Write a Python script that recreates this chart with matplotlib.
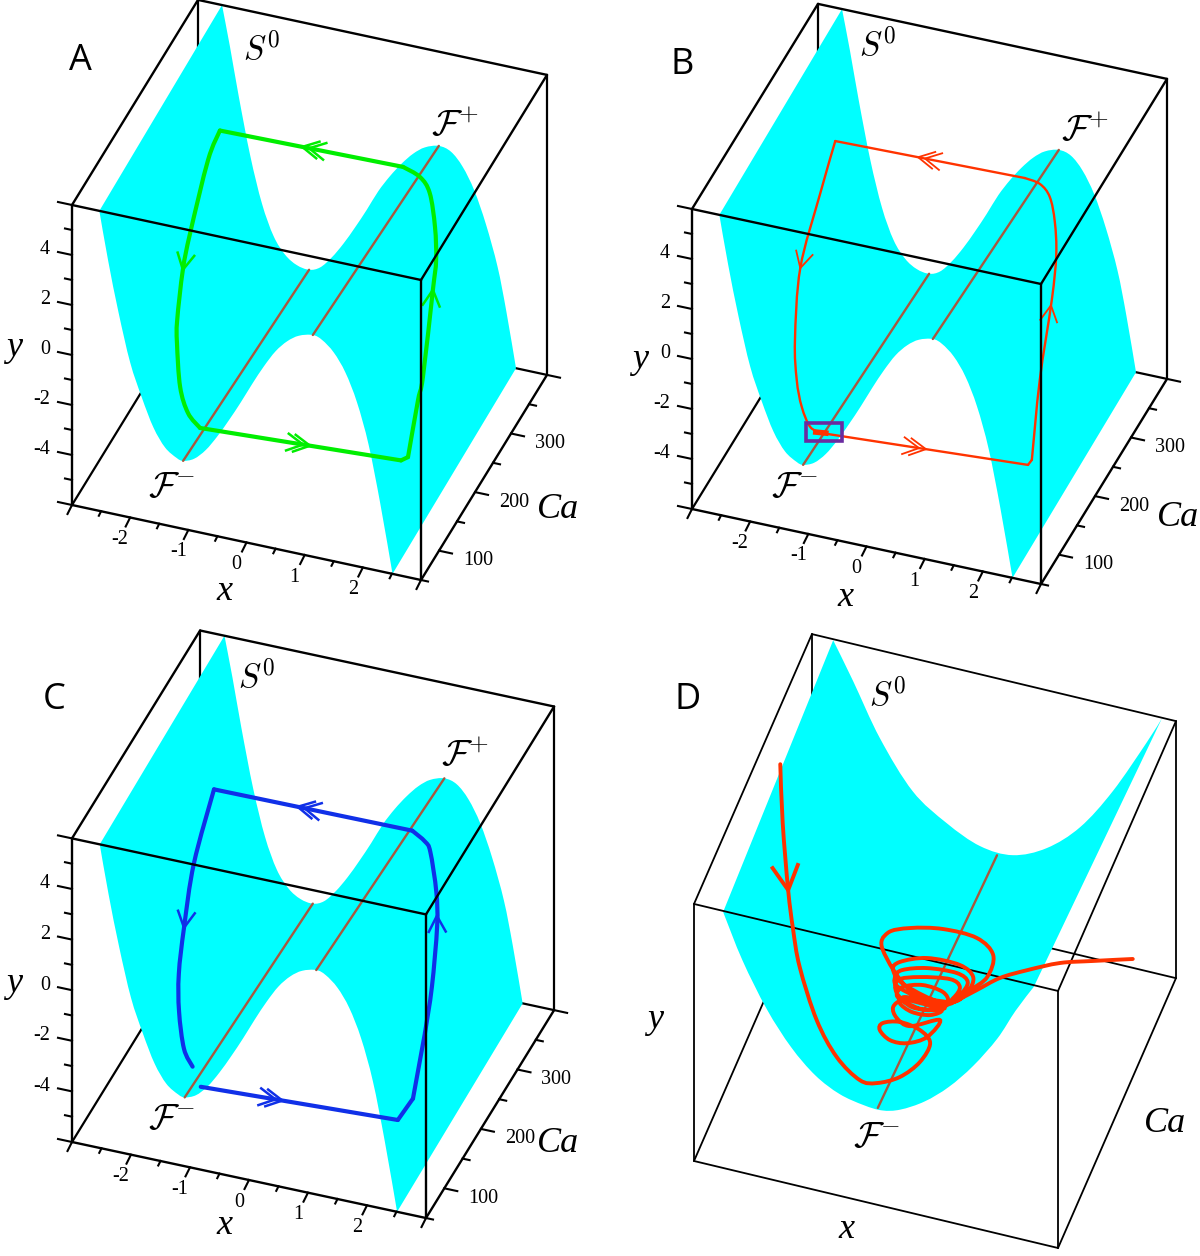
import numpy as np
import matplotlib
matplotlib.use('Agg')
import matplotlib.pyplot as plt
from matplotlib.path import Path
from matplotlib.patches import PathPatch, Rectangle

plt.rcParams['mathtext.fontset'] = 'cm'

# surface edges of panels A, B, C (front is Ca=50, back is Ca=400)
front_x = [-2.53, -2.38, -2.2, -2.0, -1.8, -1.6, -1.4, -1.2, -1.09, -0.9, -0.7, -0.5, -0.3, -0.1, 0.1, 0.3, 0.5, 0.7, 0.9, 1.14, 1.3, 1.5, 1.7, 1.9, 2.1, 2.3, 2.51]
front_y = [6.0, 4.1, 2.1, 0.2, -1.1, -2.2, -2.9, -3.22, -3.28, -3.1, -2.65, -2.0, -1.25, -0.45, 0.4, 1.2, 1.9, 2.4, 2.72, 2.87, 2.75, 2.35, 1.65, 0.55, -1.05, -3.3, -6.0]
back_x = [-2.587, -2.45, -2.3, -2.1, -1.9, -1.7, -1.5, -1.3, -1.09, -0.9, -0.7, -0.5, -0.3, -0.1, 0.1, 0.3, 0.5, 0.7, 0.9, 1.14, 1.35, 1.55, 1.75, 1.95, 2.15, 2.3, 2.467]
back_y = [6.0, 4.4, 2.5, 0.2, -1.6, -2.8, -3.45, -3.76, -3.84, -3.65, -3.15, -2.5, -1.75, -0.95, -0.1, 0.6, 1.2, 1.7, 2.05, 2.23, 2.1, 1.6, 0.75, -0.5, -2.1, -3.8, -6.0]

# surface edges of panel D
front_x_d = [-2.52, -2.2, -1.8, -1.4, -1.0, -0.6, -0.2, 0.1, 0.4, 0.8, 1.2, 1.6, 2.0, 2.3, 2.6]
front_y_d = [5.95, 3.9, 1.9, 0.4, -0.65, -1.25, -1.5, -1.54, -1.3, -0.65, 0.3, 1.55, 3.1, 4.6, 5.92]
back_x_d = [-2.65, -2.32, -1.88, -1.34, -0.78, -0.23, 0.31, 0.87, 1.42, 1.96, 2.52, 2.77]
back_y_d = [5.95, 4.26, 1.9, -0.21, -1.32, -2.02, -2.08, -1.37, -0.02, 2.03, 4.69, 5.98]

# fold lines
fold_ca = [50, 400]
fold_minus_x = [-1.09, -1.09]
fold_minus_y = [-3.28, -3.84]
fold_plus_x = [1.14, 1.14]
fold_plus_y = [2.87, 2.23]
fold_d_x = [0.03, 0.05]
fold_d_y = [-1.47, -2.26]

# trajectories
traj_a_x = [-1.17, 2.285, 2.374, 2.33, 2.29, 2.09, 1.96, 1.755, 1.51, 1.25, 0.957, -2.19, -2.27, -2.33, -2.27, -2.12, -2.0, -1.76, -1.50, -1.17]
traj_a_y = [-3.41, -2.98, -2.92, -1.48, -1.05, 0.93, 1.36, 1.87, 2.52, 2.68, 2.94, 2.82, 2.07, 0.06, -0.68, -1.68, -2.07, -3.0, -3.45, -3.41]
traj_a_ca = [110, 110, 115, 150, 170, 230, 260, 290, 315, 330, 330, 330, 310, 270, 240, 200, 180, 150, 130, 110]

traj_b_x = [-1.14, 2.405, 2.44, 2.05, 2.01, 1.90, 1.69, 1.48, 1.25, 0.99, -2.27, -2.35, -2.5, -2.22, -1.88, -1.67, -1.40, -1.14]
traj_b_y = [-3.44, -2.94, -2.84, -1.83, 0.42, 1.45, 1.97, 2.39, 2.56, 2.67, 2.52, 1.03, -1.27, -2.6, -2.86, -3.36, -3.56, -3.44]
traj_b_ca = [110, 110, 115, 200, 240, 270, 300, 320, 330, 330, 330, 300, 270, 210, 160, 140, 120, 110]

traj_c_x = [-1.19, 2.15, 2.345, 2.3, 2.17, 2.01, 1.81, 1.46, 1.31, 1.03, -2.33, -2.36, -2.28, -2.12, -1.93, -1.66, -1.39]
traj_c_y = [-4.32, -3.96, -3.25, -1.62, -0.79, 0.58, 1.13, 1.6, 1.69, 1.75, 1.7, -0.06, -1.63, -2.44, -3.12, -3.76, -3.86]
traj_c_ca = [110, 110, 120, 160, 200, 240, 270, 310, 320, 330, 330, 280, 240, 200, 170, 140, 120]

traj_d_x = [-2.55, -2.51, -2.42, -2.34, -2.23, -1.95, -1.62, -1.24, -0.96, -0.58, -0.25, -0.08, -0.25, -0.58, -0.86, -0.91, -0.74, -0.46, -0.13, 0.08,
            -0.41, -0.63, -0.69, -0.53, -0.25, 0.11, -0.08, -0.38, -0.58, -0.50, -0.17, 0.16, -0.17, -0.50, -0.63, -0.53, -0.20, 0.13, 0.21, 0.0,
            -0.38, -0.63, -0.61, -0.25, 0.25, 0.41, 0.30, 0.08, -0.58, -0.66, -0.54, -0.13, 0.36, 0.54, 0.41, 0.16, -0.50, -0.69, -0.58, -0.13,
            0.41, 0.63, 0.53, 0.25, -0.41, -0.86, -0.78, -0.41, 0.13, 0.69, 0.96, 0.86, 0.58, 0.30, 0.69, 1.07, 1.52, 2.06, 2.60, 3.26]
traj_d_y = [6.53, 3.81, 0.74, -1.02, -2.72, -5.01, -6.51, -7.33, -7.28, -6.74, -5.82, -4.82, -4.32, -4.17, -4.41, -4.77, -5.13, -5.08, -4.57, -3.63,
            -4.25, -4.02, -3.55, -3.11, -3.06, -3.14, -3.51, -3.57, -3.29, -2.95, -2.96, -3.02, -3.33, -3.18, -2.95, -2.5, -2.19, -2.29, -2.7, -3.18,
            -3.34, -2.85, -2.23, -1.85, -1.61, -1.87, -2.46, -2.98, -2.59, -2.13, -1.72, -1.35, -1.25, -1.55, -2.24, -2.83, -2.39, -1.82, -1.37, -0.88,
            -0.84, -1.26, -2.03, -2.68, -2.57, -1.0, -0.15, 0.33, 0.65, 0.61, -0.01, -1.1, -1.9, -2.65, -1.82, -1.0, -0.33, 0.37, 0.83, 1.37]
traj_d_ca = 225

x_major = [-3, -2, -1, 0, 1, 2, 3]
x_minor = [-2.5, -1.5, -0.5, 0.5, 1.5, 2.5]
x_labels = [-2, -1, 0, 1, 2]
y_major = [-6, -4, -2, 0, 2, 4, 6]
y_minor = [-5, -3, -1, 1, 3, 5]
y_labels = [-4, -2, 0, 2, 4]
ca_major = [100, 200, 300, 400]
ca_minor = [50, 150, 250, 350]
ca_labels = [100, 200, 300]

CYAN = '#00ffff'
FOLD = '#a8583f'
GREEN = '#00ee00'
RED = '#ff3300'
BLUE = '#1030e8'
SERIF = 'Liberation Serif'

panel_a = dict(origin=(72, 505), xu=(58.17, 12.5), yu=(0, -25), cu=(0.36, -0.586))
panel_b = dict(origin=(692, 509), xu=(58.17, 12.5), yu=(0, -25), cu=(0.36, -0.586))
panel_c = dict(origin=(72, 1142), xu=(59, 12.67), yu=(0, -25.3), cu=(0.366, -0.594))
panel_d = dict(origin=(694, 1161), xu=(60.67, 14.5), yu=(0, -21.42), cu=(0.337, -0.771))


def project(p, x, y, ca):
    x = np.asarray(x, dtype=float)
    y = np.asarray(y, dtype=float)
    ca = np.asarray(ca, dtype=float)
    sx = p['origin'][0] + (x + 3) * p['xu'][0] + (ca - 50) * p['cu'][0]
    sy = p['origin'][1] + (x + 3) * p['xu'][1] + (y + 6) * p['yu'][1] + (ca - 50) * p['cu'][1]
    return sx, sy


def bezier_through(sx, sy):
    # control points so a curve passes through the read points
    pts = np.column_stack([sx, sy])
    prev = np.vstack([pts[0], pts[:-1]])
    nxt = np.vstack([pts[1:], pts[-1]])
    tan = (nxt - prev) / 6.0
    verts = []
    for i in range(len(pts) - 1):
        verts += [pts[i] + tan[i], pts[i + 1] - tan[i + 1], pts[i + 1]]
    return verts


def draw_surface(ax, p, fx, fy, bx, by):
    sx, sy = project(p, fx, fy, 50)
    bsx, bsy = project(p, bx, by, 400)
    verts = [(sx[0], sy[0])] + bezier_through(sx, sy)
    codes = [Path.MOVETO] + [Path.CURVE4] * (len(verts) - 1)
    verts.append((bsx[-1], bsy[-1]))
    codes.append(Path.LINETO)
    back = bezier_through(bsx[::-1], bsy[::-1])
    verts += back
    codes += [Path.CURVE4] * len(back)
    verts.append((sx[0], sy[0]))
    codes.append(Path.CLOSEPOLY)
    ax.add_patch(PathPatch(Path(verts, codes), fc=CYAN, ec='none', zorder=2))


def line3(ax, p, x, y, ca, lw=1.5, color='k', z=1):
    sx, sy = project(p, x, y, ca)
    ax.plot(sx, sy, color=color, lw=lw, zorder=z, solid_capstyle='round')


def draw_box_back(ax, p, lw):
    line3(ax, p, [-3, -3], [6, -6], [400, 400], lw)
    line3(ax, p, [3, 3], [6, -6], [400, 400], lw)
    line3(ax, p, [-3, 3], [-6, -6], [400, 400], lw)
    line3(ax, p, [-3, -3], [-6, -6], [50, 400], lw)


def draw_box_front(ax, p, lw):
    line3(ax, p, [-3, 3], [6, 6], [50, 50], lw, z=5)
    line3(ax, p, [-3, -3], [6, 6], [50, 400], lw, z=5)
    line3(ax, p, [3, 3], [6, 6], [50, 400], lw, z=5)
    line3(ax, p, [-3, 3], [6, 6], [400, 400], lw, z=5)
    line3(ax, p, [-3, -3], [6, -6], [50, 50], lw, z=5)
    line3(ax, p, [3, 3], [6, -6], [50, 50], lw, z=5)
    line3(ax, p, [-3, 3], [-6, -6], [50, 50], lw, z=5)
    line3(ax, p, [3, 3], [-6, -6], [50, 400], lw, z=5)


def draw_ticks(ax, p):
    # x ticks go down-left, y ticks go left, Ca ticks go right
    for vals, size in [(x_major, 10), (x_minor, 5)]:
        for v in vals:
            sx, sy = project(p, v, -6, 50)
            ax.plot([sx, sx - 0.45 * size], [sy, sy + 0.9 * size], color='k', lw=1.5, zorder=5)
    for vals, size in [(y_major, 14), (y_minor, 7)]:
        for v in vals:
            sx, sy = project(p, -3, v, 50)
            ax.plot([sx, sx - size], [sy, sy - 0.215 * size], color='k', lw=1.5, zorder=5)
    for vals, size in [(ca_major, 13), (ca_minor, 7)]:
        for v in vals:
            sx, sy = project(p, 3, -6, v)
            ax.plot([sx, sx + size], [sy, sy + 0.215 * size], color='k', lw=1.5, zorder=5)
    for v in x_labels:
        sx, sy = project(p, v, -6, 50)
        ax.text(sx - 10, sy + 22, str(v), fontsize=14.5, family=SERIF, ha='center', va='center', zorder=6)
    for v in y_labels:
        sx, sy = project(p, -3, v, 50)
        ax.text(sx - 22, sy - 5, str(v), fontsize=14.5, family=SERIF, ha='right', va='center', zorder=6)
    for v in ca_labels:
        sx, sy = project(p, 3, -6, v)
        ax.text(sx + 39, sy + 10, str(v), fontsize=14.5, family=SERIF, ha='center', va='center', zorder=6)


def chevron(ax, tip, d, color, lw, size=18, n=2, gap=7):
    d = d / np.hypot(*d)
    nrm = np.array([-d[1], d[0]])
    for k in range(n):
        t = tip - k * gap * d
        a = t - size * (0.88 * d + 0.47 * nrm)
        b = t - size * (0.88 * d - 0.47 * nrm)
        ax.plot([a[0], t[0], b[0]], [a[1], t[1], b[1]], color=color, lw=lw, zorder=4, solid_joinstyle='miter')


def draw_traj(ax, p, tx, ty, tca, color, lw, arrows, corners):
    sx, sy = project(p, tx, ty, tca)
    # smooth between the sharp corners only
    cuts = [0] + corners + [len(sx) - 1]
    for i0, i1 in zip(cuts[:-1], cuts[1:]):
        px, py = sx[i0:i1 + 1], sy[i0:i1 + 1]
        verts = [(px[0], py[0])] + bezier_through(px, py)
        codes = [Path.MOVETO] + [Path.CURVE4] * (len(verts) - 1)
        ax.add_patch(PathPatch(Path(verts, codes), fc='none', ec=color, lw=lw, zorder=4, capstyle='round', joinstyle='round'))
    for seg, frac, n in arrows:
        a = np.array([sx[seg], sy[seg]])
        b = np.array([sx[seg + 1], sy[seg + 1]])
        chevron(ax, a + frac * (b - a), b - a, color, max(lw * 0.6, 1.3), n=n)


def text_labels(ax, S, Fp, Fm, xl, yl, cal, letter):
    ax.text(S[0], S[1] + 2, r'$S^0$', fontsize=24, ha='center', va='center', zorder=6)
    if Fp is not None:
        ax.text(Fp[0], Fp[1] + 4, r'$\mathcal{F}^{+}$', fontsize=26, ha='center', va='center', zorder=6)
    ax.text(Fm[0], Fm[1] + 4, r'$\mathcal{F}^{-}$', fontsize=26, ha='center', va='center', zorder=6)
    for (px, py), s in [(xl, 'x'), (yl, 'y'), (cal, 'Ca')]:
        ax.text(px, py + 2, s, fontsize=26, family=SERIF, style='italic', ha='center', va='center', zorder=6)
    ax.text(letter[1], letter[2] + 3, letter[0], fontsize=26, family='Open Sans', ha='center', va='center', zorder=6)


fig = plt.figure(figsize=(12, 12.56), dpi=100)
ax = fig.add_axes([0, 0, 1, 1])
ax.set_xlim(0, 1200)
ax.set_ylim(1256, 0)
ax.axis('off')

for p, tx, ty, tca, col, lw, arrows, corners in [
        (panel_a, traj_a_x, traj_a_y, traj_a_ca, GREEN, 3.0, [(0, 0.547, 2), (10, 0.55, 2), (13, 1.0, 1), (5, 0.0, 1)], [1, 2, 10, 11]),
        (panel_b, traj_b_x, traj_b_y, traj_b_ca, RED, 1.7, [(0, 0.505, 2), (9, 0.563, 2), (11, 1.0, 1), (3, 0.93, 1)], [1, 2, 9, 10]),
        (panel_c, traj_c_x, traj_c_y, traj_c_ca, BLUE, 3.0, [(0, 0.414, 2), (9, 0.578, 2), (11, 1.0, 1), (5, 0.3, 1)], [1, 2, 3, 9, 10])]:
    draw_box_back(ax, p, 1.6)
    draw_surface(ax, p, front_x, front_y, back_x, back_y)
    line3(ax, p, fold_minus_x, fold_minus_y, fold_ca, 1.7, FOLD, 3)
    line3(ax, p, fold_plus_x, fold_plus_y, fold_ca, 1.7, FOLD, 3)
    draw_traj(ax, p, tx, ty, tca, col, lw, arrows, corners)
    draw_box_front(ax, p, 1.7)
    draw_ticks(ax, p)

# box around the fast jump start in panel B
bx0, by0 = project(panel_b, traj_b_x[0], traj_b_y[0], traj_b_ca[0])
ax.add_patch(Rectangle((bx0 - 16, by0 - 10), 36, 18, fc='none', ec='#6a2ca0', lw=2.6, zorder=5))
ax.plot([bx0 - 6, bx0 + 4], [by0 - 1, by0], color=RED, lw=4, zorder=5)

draw_box_back(ax, panel_d, 1.3)
draw_surface(ax, panel_d, front_x_d, front_y_d, back_x_d, back_y_d)
line3(ax, panel_d, fold_d_x, fold_d_y, fold_ca, 1.7, FOLD, 3)
draw_box_front(ax, panel_d, 1.3)
sx_d, sy_d = project(panel_d, traj_d_x, traj_d_y, traj_d_ca)
path_d = Path([(sx_d[0], sy_d[0])] + bezier_through(sx_d, sy_d), [Path.MOVETO] + [Path.CURVE4] * (3 * (len(sx_d) - 1)))
ax.add_patch(PathPatch(path_d, fc='none', ec=RED, lw=2.8, zorder=6, capstyle='round'))
chevron(ax, np.array([sx_d[2], sy_d[2]]), np.array([sx_d[3] - sx_d[2], sy_d[3] - sy_d[2]]), RED, 2.8, size=27, n=1)

text_labels(ax, (262, 47), (455, 122), (172, 483), (224, 590), (14, 346), (558, 508), ('A', 80, 58))
text_labels(ax, (878, 43), (1085, 127), (795, 483), (845, 596), (640, 358), (1178, 515), ('B', 682, 62))
text_labels(ax, (257, 675), (465, 752), (172, 1115), (224, 1224), (14, 982), (558, 1142), ('C', 54, 697))
text_labels(ax, (888, 693), None, (877, 1133), (846, 1228), (655, 1017), (1165, 1122), ('D', 688, 697))

fig.savefig('out.png', dpi=100)
